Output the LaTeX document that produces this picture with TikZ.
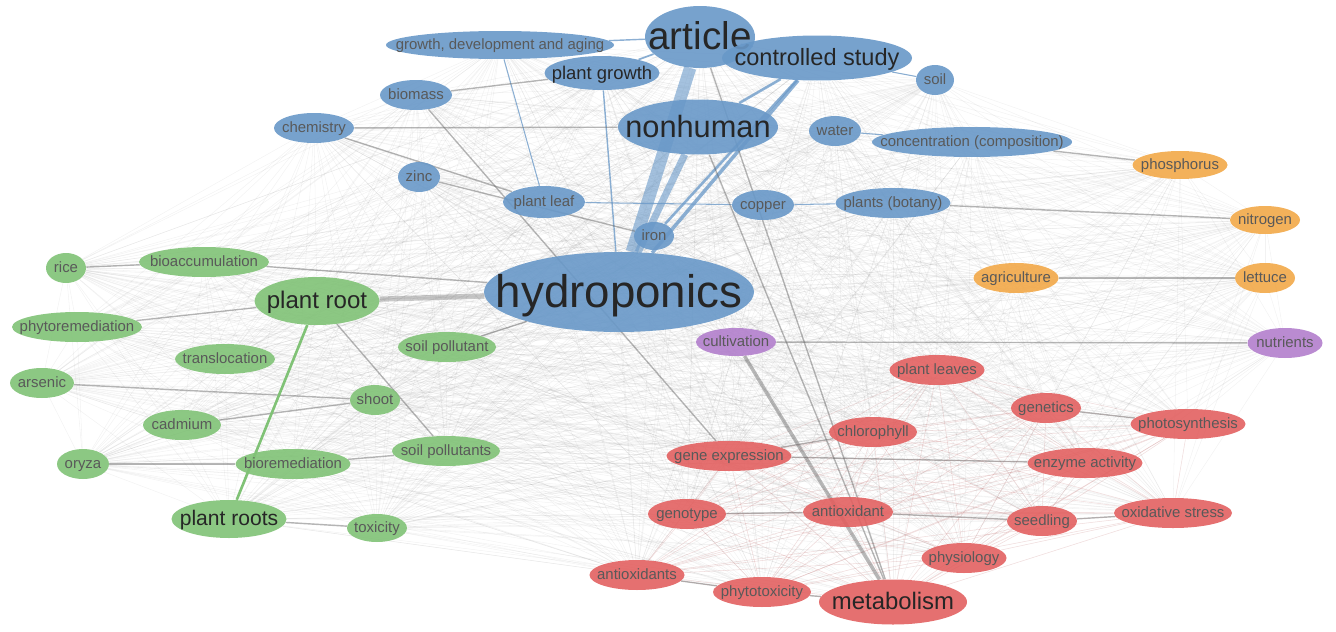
\documentclass[tikz,border=0pt]{standalone}
\usepackage{fontspec}
\setmainfont{Liberation Sans}
\usetikzlibrary{shapes.geometric,backgrounds}
\definecolor{kwblue}{RGB}{104,152,200}
\definecolor{kwgreen}{RGB}{128,194,118}
\definecolor{kwred}{RGB}{226,96,96}
\definecolor{kworange}{RGB}{242,168,72}
\definecolor{kwpurple}{RGB}{178,126,204}
\newcommand\kwt[1]{\makebox[0pt]{\raisebox{-0.33em}[0pt][0pt]{#1}}}
\tikzset{
	kw/.style={ellipse, inner sep=0pt, fill opacity=0.9, text opacity=1, text=black!65, font=\fontsize{8.5}{9}\selectfont},
	bluekw/.style={kw, fill=kwblue},
	greenkw/.style={kw, fill=kwgreen},
	redkw/.style={kw, fill=kwred},
	orangekw/.style={kw, fill=kworange},
	purplekw/.style={kw, fill=kwpurple},
	sz/.style 2 args={minimum width=#1*0.02cm, minimum height=#2*0.02cm},
	big/.style={text=black!85, font=\fontsize{#1}{#1}\selectfont},
	mesh/.style={draw=gray, opacity=0.1, line width=0.3pt},
	redmesh/.style={draw=kwred, opacity=0.15, line width=0.3pt},
	link/.style={draw=black!60, opacity=0.45, line width=0.8pt},
	bluelink/.style={draw=kwblue, opacity=0.75},
}
\def\kwlist{article,growth,controlled,plantgrowth,soil,biomass,nonhuman,chemistry,water,concentration,zinc,plantleaf,copper,botany,iron,hydro,phosphorus,nitrogen,agriculture,lettuce,cultivation,nutrients,rice,bioacc,plantroot,phytorem,transloc,soilpoll,arsenic,shoot,cadmium,soilpolls,oryza,biorem,plantroots,toxicity,leaves,genetics,photosyn,chloro,geneexpr,enzyme,genotype,antiox,seedling,oxstress,physio,antioxs,phytotox,metab}
\def\redlist{leaves,genetics,photosyn,chloro,geneexpr,enzyme,genotype,antiox,seedling,oxstress,physio,antioxs,phytotox,metab}

\begin{document}
\begin{tikzpicture}[x=0.02cm, y=-0.02cm]
	%%%%% START %%%%%
	\useasboundingbox (0,0) rectangle (1336,632);
	
	% blue cluster
	\node[bluekw, sz={110}{62}, big=22] (article) at (700,37) {\kwt{article}};
	\node[bluekw, sz={228}{28}] (growth) at (500,45) {\kwt{growth, development and aging}};
	\node[bluekw, sz={190}{45}, big=13.4] (controlled) at (817,58) {\kwt{controlled study}};
	\node[bluekw, sz={115}{34}, big=10.5] (plantgrowth) at (602,73) {\kwt{plant growth}};
	\node[bluekw, sz={38}{30}] (soil) at (935,80) {\kwt{soil}};
	\node[bluekw, sz={72}{30}] (biomass) at (416,95) {\kwt{biomass}};
	\node[bluekw, sz={160}{55}, big=17.5] (nonhuman) at (698,127) {\kwt{nonhuman}};
	\node[bluekw, sz={80}{30}] (chemistry) at (314,128) {\kwt{chemistry}};
	\node[bluekw, sz={52}{30}] (water) at (835,131) {\kwt{water}};
	\node[bluekw, sz={200}{30}] (concentration) at (972,142) {\kwt{concentration (composition)}};
	\node[bluekw, sz={42}{30}] (zinc) at (419,177) {\kwt{zinc}};
	\node[bluekw, sz={82}{32}] (plantleaf) at (544,202) {\kwt{plant leaf}};
	\node[bluekw, sz={62}{30}] (copper) at (763,205) {\kwt{copper}};
	\node[bluekw, sz={115}{30}] (botany) at (893,203) {\kwt{plants (botany)}};
	\node[bluekw, sz={40}{28}] (iron) at (654,236) {\kwt{iron}};
	\node[bluekw, sz={270}{80}, big=26] (hydro) at (619,292) {\kwt{hydroponics}};
	
	% orange and purple
	\node[orangekw, sz={95}{28}] (phosphorus) at (1180,165) {\kwt{phosphorus}};
	\node[orangekw, sz={70}{28}] (nitrogen) at (1265,220) {\kwt{nitrogen}};
	\node[orangekw, sz={85}{30}] (agriculture) at (1016,278) {\kwt{agriculture}};
	\node[orangekw, sz={60}{30}] (lettuce) at (1265,278) {\kwt{lettuce}};
	\node[purplekw, sz={80}{28}] (cultivation) at (736,342) {\kwt{cultivation}};
	\node[purplekw, sz={75}{30}] (nutrients) at (1285,343) {\kwt{nutrients}};
	
	% green cluster
	\node[greenkw, sz={40}{30}] (rice) at (66,268) {\kwt{rice}};
	\node[greenkw, sz={130}{30}] (bioacc) at (204,262) {\kwt{bioaccumulation}};
	\node[greenkw, sz={125}{48}, big=13.7] (plantroot) at (317,301) {\kwt{plant root}};
	\node[greenkw, sz={130}{30}] (phytorem) at (77,327) {\kwt{phytoremediation}};
	\node[greenkw, sz={100}{30}] (transloc) at (225,359) {\kwt{translocation}};
	\node[greenkw, sz={98}{30}] (soilpoll) at (447,347) {\kwt{soil pollutant}};
	\node[greenkw, sz={64}{30}] (arsenic) at (42,383) {\kwt{arsenic}};
	\node[greenkw, sz={50}{30}] (shoot) at (375,400) {\kwt{shoot}};
	\node[greenkw, sz={78}{30}] (cadmium) at (182,425) {\kwt{cadmium}};
	\node[greenkw, sz={108}{30}] (soilpolls) at (446,451) {\kwt{soil pollutants}};
	\node[greenkw, sz={52}{30}] (oryza) at (83,464) {\kwt{oryza}};
	\node[greenkw, sz={115}{30}] (biorem) at (293,464) {\kwt{bioremediation}};
	\node[greenkw, sz={115}{38}, big=12] (plantroots) at (229,519) {\kwt{plant roots}};
	\node[greenkw, sz={60}{28}] (toxicity) at (377,528) {\kwt{toxicity}};
	
	% red cluster
	\node[redkw, sz={95}{30}] (leaves) at (937,370) {\kwt{plant leaves}};
	\node[redkw, sz={70}{30}] (genetics) at (1046,408) {\kwt{genetics}};
	\node[redkw, sz={115}{30}] (photosyn) at (1188,424) {\kwt{photosynthesis}};
	\node[redkw, sz={88}{30}] (chloro) at (873,432) {\kwt{chlorophyll}};
	\node[redkw, sz={125}{30}] (geneexpr) at (729,456) {\kwt{gene expression}};
	\node[redkw, sz={115}{30}] (enzyme) at (1085,463) {\kwt{enzyme activity}};
	\node[redkw, sz={78}{30}] (genotype) at (687,514) {\kwt{genotype}};
	\node[redkw, sz={90}{30}] (antiox) at (848,512) {\kwt{antioxidant}};
	\node[redkw, sz={70}{30}] (seedling) at (1042,521) {\kwt{seedling}};
	\node[redkw, sz={118}{30}] (oxstress) at (1173,513) {\kwt{oxidative stress}};
	\node[redkw, sz={85}{30}] (physio) at (964,558) {\kwt{physiology}};
	\node[redkw, sz={95}{30}] (antioxs) at (637,575) {\kwt{antioxidants}};
	\node[redkw, sz={98}{30}] (phytotox) at (762,592) {\kwt{phytotoxicity}};
	\node[redkw, sz={148}{45}, big=13.6] (metab) at (893,602) {\kwt{metabolism}};
	
	\begin{scope}[on background layer]
		% faint web
		\foreach \a [count=\i] in \kwlist {
			\foreach \b [count=\j] in \kwlist {
				\ifnum\j>\i \draw[mesh] (\a) -- (\b); \fi
			}
		}
		\foreach \a [count=\i] in \redlist {
			\foreach \b [count=\j] in \redlist {
				\ifnum\j>\i \draw[redmesh] (\a) -- (\b); \fi
			}
		}
		
		% strong links
		\draw[bluelink, line width=7pt, opacity=0.6] (article) -- (hydro);
		\draw[bluelink, line width=4pt, opacity=0.6] (nonhuman) -- (hydro);
		\draw[bluelink, line width=2pt] (controlled) -- (hydro);
		\draw[bluelink, line width=1.5pt] (controlled) -- (nonhuman);
		\draw[bluelink, line width=1.5pt] (controlled) -- (iron);
		\draw[bluelink, line width=1pt] (article) -- (controlled);
		\draw[bluelink, line width=1pt] (article) -- (plantgrowth);
		\draw[bluelink, line width=0.8pt] (article) -- (growth);
		\draw[bluelink, line width=0.8pt] (plantgrowth) -- (hydro);
		\draw[bluelink, line width=0.6pt] (growth) -- (plantleaf);
		\draw[bluelink, line width=0.6pt] (plantleaf) -- (copper);
		\draw[bluelink, line width=0.6pt] (copper) -- (botany);
		\draw[bluelink, line width=0.6pt] (water) -- (concentration);
		\draw[bluelink, line width=0.6pt] (controlled) -- (soil);
		
		\draw[link, line width=3pt, opacity=0.35] (plantroot) -- (hydro);
		\draw[link, line width=2pt] (cultivation) -- (metab);
		\draw[link] (nonhuman) -- (metab);
		\draw[link] (article) -- (metab);
		\draw[link] (chemistry) -- (nonhuman);
		\draw[link] (biomass) -- (plantgrowth);
		\draw[link] (chemistry) -- (plantleaf);
		\draw[link] (zinc) -- (iron);
		\draw[link] (biomass) -- (geneexpr);
		\draw[link] (rice) -- (bioacc);
		\draw[link] (bioacc) -- (hydro);
		\draw[link] (phytorem) -- (plantroot);
		\draw[link] (arsenic) -- (shoot);
		\draw[link] (cadmium) -- (shoot);
		\draw[link] (oryza) -- (biorem);
		\draw[link] (biorem) -- (soilpolls);
		\draw[link] (plantroots) -- (toxicity);
		\draw[link] (plantroot) -- (soilpolls);
		\draw[link] (soilpoll) -- (hydro);
		\draw[link] (phosphorus) -- (concentration);
		\draw[link] (nitrogen) -- (botany);
		\draw[link] (lettuce) -- (agriculture);
		\draw[link] (nutrients) -- (cultivation);
		\draw[link] (genetics) -- (photosyn);
		\draw[link] (enzyme) -- (geneexpr);
		\draw[link] (seedling) -- (oxstress);
		\draw[link] (seedling) -- (antiox);
		\draw[link] (antiox) -- (genotype);
		\draw[link] (chloro) -- (geneexpr);
		\draw[link] (antioxs) -- (phytotox);
		\draw[link] (phytotox) -- (metab);
		\draw[draw=kwgreen, line width=1.5pt] (plantroot) -- (plantroots);
	\end{scope}
	
	%%%%% END %%%%%
\end{tikzpicture}
\end{document}
